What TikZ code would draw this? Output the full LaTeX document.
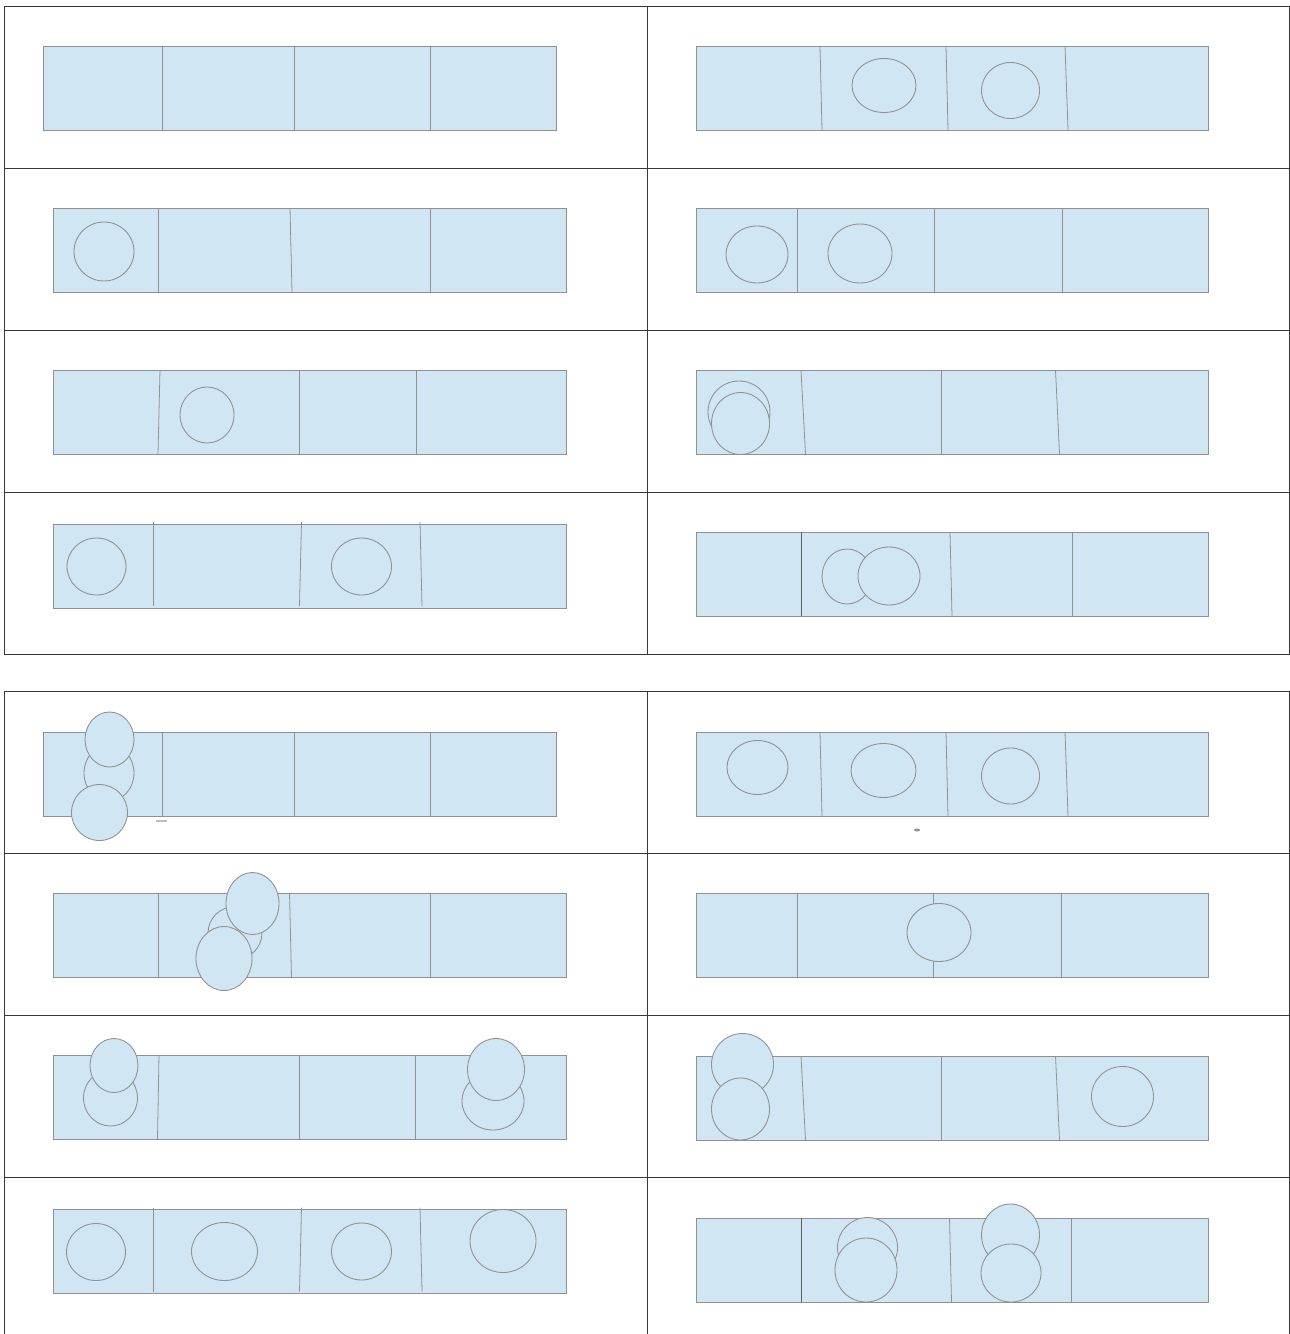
\documentclass[tikz,border=0pt]{standalone}
\usepackage{xcolor}
\usepackage{tikz}

\definecolor{trayblue}{RGB}{208,230,243}
\definecolor{edgegray}{RGB}{145,145,145}
\definecolor{gridgray}{RGB}{55,55,55}

\tikzset{
    frame/.style={draw=gridgray, line width=0.55pt},
    tray/.style={fill=trayblue, draw=edgegray, line width=0.5pt},
    wall/.style={draw=edgegray, line width=0.45pt},
    blob/.style={fill=trayblue, draw=edgegray, line width=0.5pt}
}

\begin{document}
\begin{tikzpicture}[x=0.02cm, y=-0.02cm]

        \useasboundingbox (0,0) rectangle (1290,1334);

        % Upper grid
        \draw[frame] (4,6) rectangle (1289,654);
        \draw[frame] (647,6) -- (647,654);
        \foreach \r in {168,330,492}
            \draw[frame] (4,\r) -- (1289,\r);

        % Lower grid (runs off the page)
        \draw[frame] (4,1334) -- (4,691) -- (1289,691) -- (1289,1334);
        \draw[frame] (647,691) -- (647,1334);
        \foreach \r in {853,1015,1177}
            \draw[frame] (4,\r) -- (1289,\r);

        % Upper grid, row 1
        \draw[tray] (43,46) rectangle (556,130);
        \draw[wall] (162,46) -- (162,130);
        \draw[wall] (294,46) -- (294,130);
        \draw[wall] (430,46) -- (430,130);

        \draw[tray] (696,46) rectangle (1208,130);
        \draw[wall] (820,46) -- (822,130);
        \draw[wall] (946,46) -- (948,130);
        \draw[wall] (1065,46) -- (1068,130);
        \draw[blob] (884,85.5) ellipse [x radius=32, y radius=27];
        \draw[blob] (1010.5,90.5) ellipse [x radius=29, y radius=28];

        % Upper grid, row 2
        \draw[tray] (53,208) rectangle (566,292);
        \draw[wall] (158,208) -- (158,292);
        \draw[wall] (290,208) -- (292,292);
        \draw[wall] (430,208) -- (430,292);
        \draw[blob] (104,251.5) ellipse [x radius=30, y radius=29.5];

        \draw[tray] (696,208) rectangle (1208,292);
        \draw[wall] (797,208) -- (797,292);
        \draw[wall] (934,208) -- (934,292);
        \draw[wall] (1062,208) -- (1062,292);
        \draw[blob] (757,254.5) ellipse [x radius=31, y radius=28.5];
        \draw[blob] (860,253.5) ellipse [x radius=32, y radius=29.5];

        % Upper grid, row 3
        \draw[tray] (53,370) rectangle (566,454);
        \draw[wall] (160,370) -- (158,454);
        \draw[wall] (299,370) -- (299,454);
        \draw[wall] (416,370) -- (416,454);
        \draw[blob] (207,415) ellipse [x radius=27, y radius=28];

        \draw[tray] (696,370) rectangle (1208,454);
        \draw[wall] (801,370) -- (805.5,454);
        \draw[wall] (941,370) -- (941,454);
        \draw[wall] (1055.5,370) -- (1059.5,454);
        \draw[blob] (739,412) ellipse [x radius=31, y radius=31];
        \draw[blob] (740.5,423.5) ellipse [x radius=29, y radius=31];

        % Upper grid, row 4
        \draw[tray] (53,524) rectangle (566,608);
        \draw[wall] (153.5,522) -- (153.5,606);
        \draw[wall] (301.5,522) -- (299.5,606);
        \draw[wall] (420,522) -- (422,606);
        \draw[blob] (96.5,566.5) ellipse [x radius=29.5, y radius=28.5];
        \draw[blob] (361.5,566.5) ellipse [x radius=30, y radius=28.5];

        \draw[tray] (696,532) rectangle (1208,616);
        \draw[wall, draw=gridgray!80] (801.5,532) -- (801.5,616);
        \draw[wall] (950,532) -- (952,616);
        \draw[wall] (1072,532) -- (1072,616);
        \draw[blob] (847,576.5) ellipse [x radius=25, y radius=27.5];
        \draw[blob] (889,576) ellipse [x radius=31, y radius=29];

        % Lower grid, row 1
        \draw[tray] (43,732) rectangle (556,816);
        \draw[wall] (162,732) -- (162,816);
        \draw[wall] (294,732) -- (294,816);
        \draw[wall] (430,732) -- (430,816);
        \draw[blob] (109,773) ellipse [x radius=25, y radius=28];
        \draw[blob] (109.5,739.5) ellipse [x radius=24.5, y radius=27.5];
        \draw[blob] (99.5,812.5) ellipse [x radius=28, y radius=28];
        \draw[edgegray!60, line width=0.8pt] (156,821) -- (167,821);

        \draw[tray] (696,732) rectangle (1208,816);
        \draw[wall] (820,732) -- (822,816);
        \draw[wall] (946,732) -- (948,816);
        \draw[wall] (1065,732) -- (1068,816);
        \draw[blob] (757.5,767.5) ellipse [x radius=30.5, y radius=27];
        \draw[blob] (883.5,770.5) ellipse [x radius=32.5, y radius=27];
        \draw[blob] (1010.5,776) ellipse [x radius=29, y radius=28];
        \fill[edgegray] (917,830) ellipse [x radius=3, y radius=1.5];

        % Lower grid, row 2
        \draw[tray] (53,893) rectangle (566,977);
        \draw[wall] (158,893) -- (158,977);
        \draw[wall] (289.5,893) -- (291.5,977);
        \draw[wall] (430,893) -- (430,977);
        \draw[blob] (235,933) ellipse [x radius=27, y radius=26.5];
        \draw[blob] (252.5,903.5) ellipse [x radius=26.5, y radius=31];
        \draw[blob] (224,958.5) ellipse [x radius=28, y radius=32];

        \draw[tray] (696,893) rectangle (1208,977);
        \draw[wall] (797,893) -- (797,977);
        \draw[wall] (933,893) -- (933,977);
        \draw[wall] (1061,893) -- (1061,977);
        \draw[blob] (939,932.5) ellipse [x radius=32, y radius=29];

        % Lower grid, row 3
        \draw[tray] (53,1055) rectangle (566,1139);
        \draw[wall] (159,1055) -- (157.5,1139);
        \draw[wall] (299.5,1055) -- (299.5,1139);
        \draw[wall] (415.5,1055) -- (415.5,1139);
        \draw[blob] (110.5,1098) ellipse [x radius=27, y radius=28];
        \draw[blob] (114,1065.5) ellipse [x radius=24, y radius=27];
        \draw[blob] (493,1101) ellipse [x radius=31, y radius=29];
        \draw[blob] (496,1069.5) ellipse [x radius=28.5, y radius=31];

        \draw[tray] (696,1056) rectangle (1208,1140);
        \draw[wall] (801,1056) -- (805.5,1140);
        \draw[wall] (941,1056) -- (941,1140);
        \draw[wall] (1055.5,1056) -- (1059.5,1140);
        \draw[blob] (742.5,1064.5) ellipse [x radius=31, y radius=31];
        \draw[blob] (740.5,1109) ellipse [x radius=29, y radius=31];
        \draw[blob] (1122.5,1096.5) ellipse [x radius=31, y radius=30];

        % Lower grid, row 4
        \draw[tray] (53,1209) rectangle (566,1293);
        \draw[wall] (153.5,1207.5) -- (153.5,1291.5);
        \draw[wall] (301.5,1207.5) -- (299.5,1291.5);
        \draw[wall] (420,1207.5) -- (422,1291.5);
        \draw[blob] (96,1252) ellipse [x radius=29.5, y radius=28.5];
        \draw[blob] (224.5,1251.5) ellipse [x radius=33, y radius=29];
        \draw[blob] (361.5,1251.5) ellipse [x radius=30, y radius=28.5];
        \draw[blob] (503,1241) ellipse [x radius=33, y radius=31.5];

        \draw[tray] (696,1218) rectangle (1208,1302);
        \draw[wall, draw=gridgray!80] (801.5,1218) -- (801.5,1302);
        \draw[wall] (949.5,1218) -- (951.5,1302);
        \draw[wall] (1071.5,1218) -- (1071.5,1302);
        \draw[blob] (867.5,1247.5) ellipse [x radius=30, y radius=30];
        \draw[blob] (866,1270) ellipse [x radius=31, y radius=32];
        \draw[blob] (1010.5,1235) ellipse [x radius=29, y radius=31];
        \draw[blob] (1011,1273) ellipse [x radius=30, y radius=29];

    \end{tikzpicture}
\end{document}
